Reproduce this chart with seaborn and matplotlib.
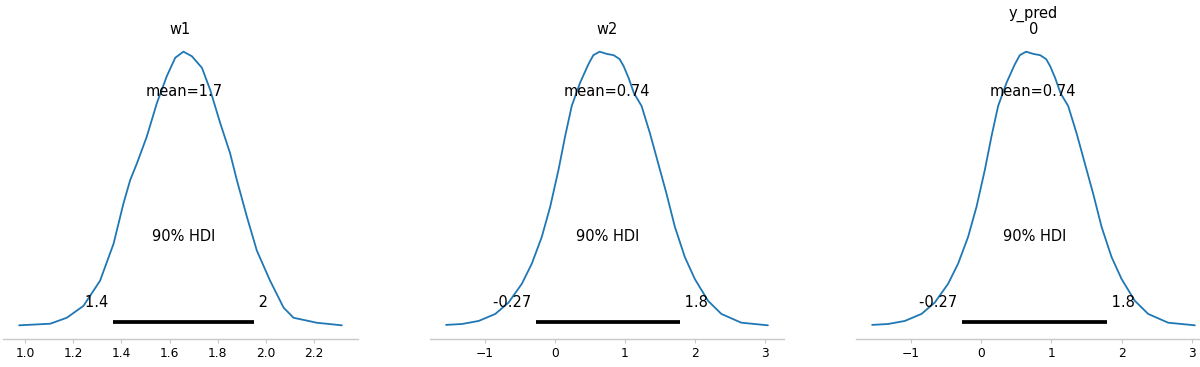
import numpy as np
import pandas as pd
import matplotlib
matplotlib.use("Agg")
import matplotlib.pyplot as plt
import seaborn as sns

# ---------------- data ----------------
titles = ["w1", "w2", "y_pred\n0"]

w1_x = [0.975, 1.104, 1.173, 1.242, 1.311, 1.367, 1.408, 1.436, 1.464, 1.505,
        1.547, 1.588, 1.623, 1.657, 1.692, 1.734, 1.768, 1.810, 1.851, 1.879,
        1.921, 1.962, 2.017, 2.073, 2.114, 2.211, 2.315]
w1_d = [0.019, 0.032, 0.081, 0.178, 0.384, 0.686, 1.015, 1.207, 1.344, 1.563,
        1.838, 2.057, 2.208, 2.258, 2.221, 2.126, 1.947, 1.673, 1.426, 1.207,
        0.905, 0.630, 0.384, 0.164, 0.081, 0.040, 0.019]

w2_x = [-1.550, -1.323, -1.085, -0.848, -0.659, -0.469, -0.327, -0.185, -0.065,
        0.053, 0.148, 0.242, 0.361, 0.479, 0.550, 0.640, 0.740, 0.840, 0.925,
        0.982, 1.053, 1.130, 1.238, 1.357, 1.475, 1.593, 1.713, 1.855, 1.997,
        2.186, 2.376, 2.660, 3.040]
w2_d = [0.006, 0.008, 0.015, 0.031, 0.057, 0.100, 0.146, 0.207, 0.276,
        0.360, 0.437, 0.506, 0.559, 0.601, 0.622, 0.630, 0.625, 0.622, 0.613,
        0.597, 0.570, 0.535, 0.506, 0.444, 0.375, 0.306, 0.230, 0.161, 0.111,
        0.061, 0.031, 0.011, 0.005]

ypred_x = [-1.550, -1.323, -1.085, -0.848, -0.659, -0.469, -0.327, -0.185, -0.065,
           0.053, 0.148, 0.242, 0.361, 0.479, 0.550, 0.640, 0.740, 0.840, 0.925,
           0.982, 1.053, 1.130, 1.238, 1.357, 1.475, 1.593, 1.713, 1.855, 1.997,
           2.186, 2.376, 2.660, 3.040]
ypred_d = [0.006, 0.008, 0.015, 0.031, 0.057, 0.100, 0.146, 0.207, 0.276,
           0.360, 0.437, 0.506, 0.559, 0.601, 0.622, 0.630, 0.625, 0.622, 0.613,
           0.597, 0.570, 0.535, 0.506, 0.444, 0.375, 0.306, 0.230, 0.161, 0.111,
           0.061, 0.031, 0.011, 0.005]

means = [1.66, 0.74, 0.74]
mean_labels = ["mean=1.7", "mean=0.74", "mean=0.74"]
hdi_low = [1.363, -0.27, -0.27]
hdi_high = [1.951, 1.79, 1.79]
hdi_low_labels = ["1.4", "-0.27", "-0.27"]
hdi_high_labels = ["2", "1.8", "1.8"]
hdi_text = "90% HDI"

ticks = [[1.0, 1.2, 1.4, 1.6, 1.8, 2.0, 2.2],
         [-1, 0, 1, 2, 3],
         [-1, 0, 1, 2, 3]]
tick_labels = [["1.0", "1.2", "1.4", "1.6", "1.8", "2.0", "2.2"],
               ["\u22121", "0", "1", "2", "3"],
               ["\u22121", "0", "1", "2", "3"]]

curves = [(w1_x, w1_d), (w2_x, w2_d), (ypred_x, ypred_d)]

# ---------------- figure ----------------
sns.set_style("white")
plt.rcParams["font.family"] = ["DejaVu Sans"]
plt.rcParams["text.color"] = "black"
plt.rcParams["axes.titlecolor"] = "black"

W, H = 1200, 367
fig = plt.figure(figsize=(W / 100, H / 100), dpi=100)

# axes extents in pixels (left, right); vertical shared
ax_px = [(3, 358), (430, 784), (856, 1211)]
top_px, bot_px = 38, 339

TXT = 10.5
line_color = "#1f77b4"

for i, ((lx, rx), (cx, cd)) in enumerate(zip(ax_px, curves)):
    ax = fig.add_axes([lx / W, (H - bot_px) / H, (rx - lx) / W, (bot_px - top_px) / H])
    df = pd.DataFrame({"x": cx, "density": cd})
    sns.lineplot(data=df, x="x", y="density", ax=ax, color=line_color,
                 linewidth=1.3, sort=False)
    ax.margins(x=0.05, y=0.05)
    ax.autoscale_view()
    plot_height = ax.get_ylim()[1]

    # HDI bar
    ax.plot([hdi_low[i], hdi_high[i]], [plot_height * 0.02] * 2, lw=2.7,
            color="k", solid_capstyle="butt")
    ax.text(hdi_low[i], plot_height * 0.07, hdi_low_labels[i] + " ",
            size=TXT, ha="right", color="black")
    ax.text(hdi_high[i], plot_height * 0.07, " " + hdi_high_labels[i],
            size=TXT, ha="left", color="black")
    ax.text((hdi_low[i] + hdi_high[i]) / 2, plot_height * 0.3, hdi_text,
            size=TXT, ha="center", color="black")
    # mean
    ax.text(means[i], plot_height * 0.8, mean_labels[i], size=TXT,
            ha="center", color="black")

    ax.set_title(titles[i], fontsize=TXT, pad=3, linespacing=1.0, color="black")
    ax.set_xlabel("")
    ax.set_ylabel("")
    ax.set_yticks([])
    ax.set_xticks(ticks[i])
    ax.set_xticklabels(tick_labels[i])
    ax.tick_params(axis="x", labelsize=8.8, length=3, color="#c8c8c8",
                   labelcolor="black", bottom=True, pad=3)
    for s in ["left", "right", "top"]:
        ax.spines[s].set_visible(False)
    ax.spines["bottom"].set_color("#c8c8c8")
    ax.spines["bottom"].set_linewidth(1.0)
    ax.grid(False)

fig.savefig("out.png", dpi=100)
